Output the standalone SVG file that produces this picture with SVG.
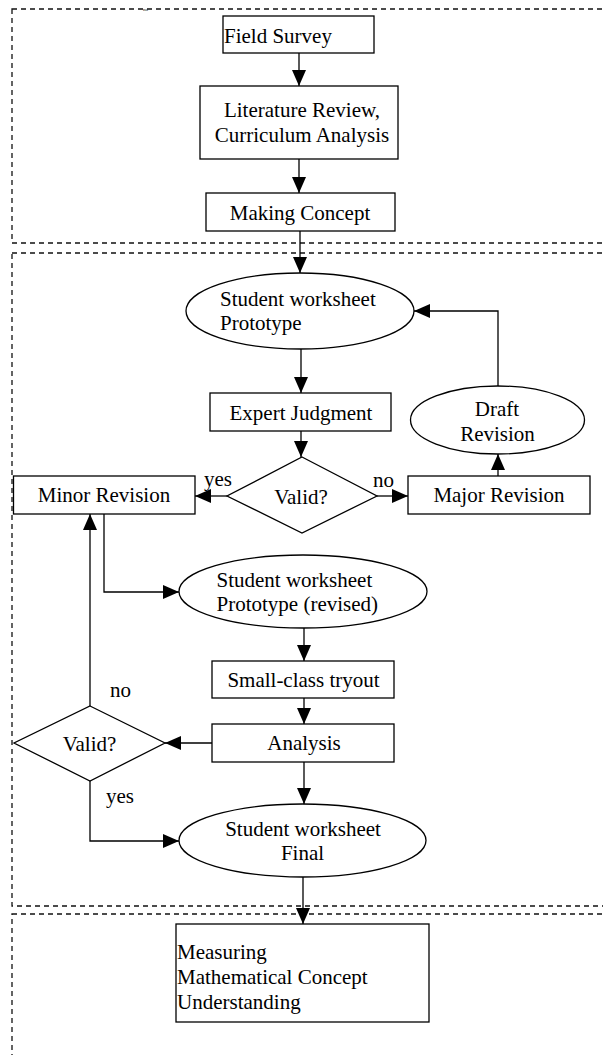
<svg xmlns="http://www.w3.org/2000/svg" width="603" height="1055" viewBox="0 0 603 1055">
<style>
text{font-family:"Liberation Serif","Times New Roman",serif;font-size:21px;fill:#000}
.c{text-anchor:middle}
.shape{fill:#fff;stroke:#000;stroke-width:1.3}
.dash{fill:none;stroke:#111;stroke-width:1.3;stroke-dasharray:5 4}
.conn{fill:none;stroke:#000;stroke-width:1.3}
</style>
<defs>
<marker id="ah" markerUnits="userSpaceOnUse" markerWidth="16" markerHeight="14" refX="16" refY="7" orient="auto">
<path d="M0,0 L16,7 L0,14 z" fill="#000"/>
</marker>
</defs>
<rect width="603" height="1055" fill="#fff"/>
<g id="frames">
<rect class="dash" x="12" y="9" width="610" height="234"/>
<rect class="dash" x="12" y="253" width="610" height="653"/>
<rect class="dash" x="12" y="914" width="610" height="160"/>
<text x="143" y="11" style="font-size:5px">no</text>
</g>
<g id="connectors">
<line class="conn" x1="299" y1="53" x2="299" y2="86" marker-end="url(#ah)"/>
<line class="conn" x1="299" y1="159" x2="299" y2="193" marker-end="url(#ah)"/>
<line class="conn" x1="300" y1="231" x2="300" y2="273" marker-end="url(#ah)"/>
<line class="conn" x1="301" y1="349" x2="301" y2="393" marker-end="url(#ah)"/>
<line class="conn" x1="301" y1="431" x2="301" y2="457" marker-end="url(#ah)"/>
<line class="conn" x1="227" y1="496" x2="195" y2="496" marker-end="url(#ah)"/>
<line class="conn" x1="377" y1="496" x2="408" y2="496" marker-end="url(#ah)"/>
<line class="conn" x1="498" y1="476" x2="498" y2="454" marker-end="url(#ah)"/>
<polyline class="conn" points="498,386 498,311 414,311" marker-end="url(#ah)"/>
<polyline class="conn" points="104,514 104,592 179,592" marker-end="url(#ah)"/>
<line class="conn" x1="304" y1="628" x2="304" y2="661" marker-end="url(#ah)"/>
<line class="conn" x1="304" y1="698" x2="304" y2="724" marker-end="url(#ah)"/>
<line class="conn" x1="212" y1="743" x2="165" y2="743" marker-end="url(#ah)"/>
<line class="conn" x1="90" y1="706" x2="90" y2="514" marker-end="url(#ah)"/>
<polyline class="conn" points="90,781 90,841 179,841" marker-end="url(#ah)"/>
<line class="conn" x1="304" y1="762" x2="304" y2="804" marker-end="url(#ah)"/>
<line class="conn" x1="303" y1="877" x2="303" y2="924" marker-end="url(#ah)"/>
<text x="204" y="486">yes</text>
<text x="373" y="487">no</text>
<text x="110" y="697">no</text>
<text x="106" y="803">yes</text>
</g>
<g id="field-survey">
<rect class="shape" x="223" y="16" width="151" height="37"/>
<text x="224" y="43">Field Survey</text>
</g>
<g id="literature-review">
<rect class="shape" x="200" y="86" width="198" height="73"/>
<text class="c" x="302" y="117">Literature Review,</text>
<text class="c" x="302" y="142">Curriculum Analysis</text>
</g>
<g id="making-concept">
<rect class="shape" x="206" y="193" width="189" height="38"/>
<text class="c" x="300" y="220">Making Concept</text>
</g>
<g id="prototype">
<ellipse class="shape" cx="300" cy="311" rx="114" ry="38"/>
<text x="220" y="306">Student worksheet</text>
<text x="220" y="330">Prototype</text>
</g>
<g id="expert-judgment">
<rect class="shape" x="210" y="393" width="181" height="38"/>
<text class="c" x="301" y="420">Expert Judgment</text>
</g>
<g id="valid-1">
<polygon class="shape" points="302,457 377,496 302,533 227,496"/>
<text class="c" x="301" y="504">Valid?</text>
</g>
<g id="minor-revision">
<rect class="shape" x="13.5" y="476" width="181.5" height="38"/>
<text class="c" x="104" y="502">Minor Revision</text>
</g>
<g id="major-revision">
<rect class="shape" x="408" y="476" width="182" height="38"/>
<text class="c" x="499" y="502">Major Revision</text>
</g>
<g id="draft-revision">
<ellipse class="shape" cx="497.5" cy="420" rx="87" ry="34"/>
<text class="c" x="497" y="416">Draft</text>
<text class="c" x="497.5" y="441">Revision</text>
</g>
<g id="prototype-revised">
<ellipse class="shape" cx="303" cy="591.5" rx="124" ry="36.5"/>
<text x="216.5" y="587">Student worksheet</text>
<text x="216.5" y="611">Prototype (revised)</text>
</g>
<g id="small-class-tryout">
<rect class="shape" x="212" y="661" width="182" height="37"/>
<text class="c" x="303.5" y="687">Small-class tryout</text>
</g>
<g id="analysis">
<rect class="shape" x="212" y="724" width="182" height="38"/>
<text class="c" x="304" y="750">Analysis</text>
</g>
<g id="valid-2">
<polygon class="shape" points="90,706 165,743 90,781 14,743"/>
<text class="c" x="89.5" y="751">Valid?</text>
</g>
<g id="final">
<ellipse class="shape" cx="302.5" cy="840.5" rx="123.5" ry="36.5"/>
<text class="c" x="303" y="835.5">Student worksheet</text>
<text class="c" x="302.5" y="859.5">Final</text>
</g>
<g id="measuring">
<rect class="shape" x="176" y="924" width="253" height="98"/>
<text x="177" y="959">Measuring</text>
<text x="177" y="984">Mathematical Concept</text>
<text x="177" y="1009">Understanding</text>
</g>
</svg>
